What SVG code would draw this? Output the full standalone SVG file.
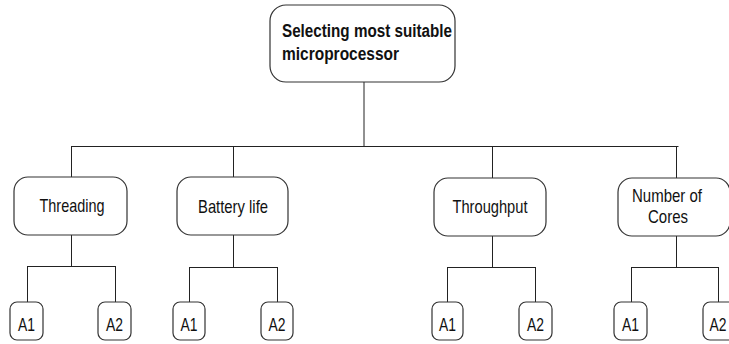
<svg xmlns="http://www.w3.org/2000/svg" width="729" height="344" viewBox="0 0 729 344">
<style>
.box{fill:#fff;stroke:#333;stroke-width:1.2}
.ln{fill:none;stroke:#222;stroke-width:1}
.t{font-family:"Liberation Sans",Arial,sans-serif;font-size:19px;fill:#111;text-anchor:middle}
.a{font-family:"Liberation Sans",Arial,sans-serif;font-size:18px;fill:#111;text-anchor:middle}
.b{font-family:"Liberation Sans",Arial,sans-serif;font-size:18px;font-weight:bold;fill:#111}
</style>
<rect width="729" height="344" fill="#fff"/>
<g id="connectors">
<path class="ln" d="M364 82V146.5M71.5 146.5H678.5M71.5 146V177M233.5 146V177M492.5 146V178M676.5 146V178"/>
<path class="ln" d="M71.5 235V266.5M27.5 266.5H115.5M27.5 266V302M115.5 266V302"/>
<path class="ln" d="M233.5 235V267.5M189.5 267.5H277.5M189.5 267V302M277.5 267V302"/>
<path class="ln" d="M492.5 236V267.5M447.5 267.5H535.5M447.5 267V302M535.5 267V302"/>
<path class="ln" d="M676.5 236V267.5M631.5 267.5H718.5M631.5 267V302M718.5 267V302"/>
</g>
<g id="root">
<rect class="box" x="270" y="5" width="185" height="77" rx="16"/>
<text class="b" x="282" y="37" textLength="170" lengthAdjust="spacingAndGlyphs">Selecting most suitable</text>
<text class="b" x="282" y="60" textLength="117" lengthAdjust="spacingAndGlyphs">microprocessor</text>
</g>
<g id="threading">
<rect class="box" x="14" y="177" width="113" height="58" rx="14"/>
<text class="t" x="72" y="212" textLength="65" lengthAdjust="spacingAndGlyphs">Threading</text>
</g>
<g id="battery">
<rect class="box" x="177" y="177" width="111" height="58" rx="14"/>
<text class="t" x="233" y="213" textLength="70" lengthAdjust="spacingAndGlyphs">Battery life</text>
</g>
<g id="throughput">
<rect class="box" x="434" y="178" width="112" height="58" rx="14"/>
<text class="t" x="490" y="213" textLength="75" lengthAdjust="spacingAndGlyphs">Throughput</text>
</g>
<g id="cores">
<rect class="box" x="618" y="178" width="112" height="58" rx="14"/>
<text class="t" x="667" y="202" textLength="70" lengthAdjust="spacingAndGlyphs">Number of</text>
<text class="t" x="668" y="223" textLength="40" lengthAdjust="spacingAndGlyphs">Cores</text>
</g>
<g id="t-a1"><rect class="box" x="10" y="302" width="33" height="38" rx="7"/><text class="a" x="26.5" y="331" textLength="17" lengthAdjust="spacingAndGlyphs">A1</text></g>
<g id="t-a2"><rect class="box" x="98" y="302" width="33" height="38" rx="7"/><text class="a" x="114.5" y="331" textLength="17" lengthAdjust="spacingAndGlyphs">A2</text></g>
<g id="b-a1"><rect class="box" x="173" y="302" width="32" height="38" rx="7"/><text class="a" x="189" y="331" textLength="17" lengthAdjust="spacingAndGlyphs">A1</text></g>
<g id="b-a2"><rect class="box" x="261" y="302" width="32" height="38" rx="7"/><text class="a" x="277" y="331" textLength="17" lengthAdjust="spacingAndGlyphs">A2</text></g>
<g id="p-a1"><rect class="box" x="432" y="302" width="31" height="38" rx="7"/><text class="a" x="447.5" y="331" textLength="17" lengthAdjust="spacingAndGlyphs">A1</text></g>
<g id="p-a2"><rect class="box" x="519" y="302" width="33" height="38" rx="7"/><text class="a" x="535.5" y="331" textLength="17" lengthAdjust="spacingAndGlyphs">A2</text></g>
<g id="c-a1"><rect class="box" x="614" y="302" width="33" height="38" rx="7"/><text class="a" x="630.5" y="331" textLength="17" lengthAdjust="spacingAndGlyphs">A1</text></g>
<g id="c-a2"><rect class="box" x="703" y="302" width="33" height="38" rx="7"/><text class="a" x="718" y="331" textLength="17" lengthAdjust="spacingAndGlyphs">A2</text></g>
</svg>
